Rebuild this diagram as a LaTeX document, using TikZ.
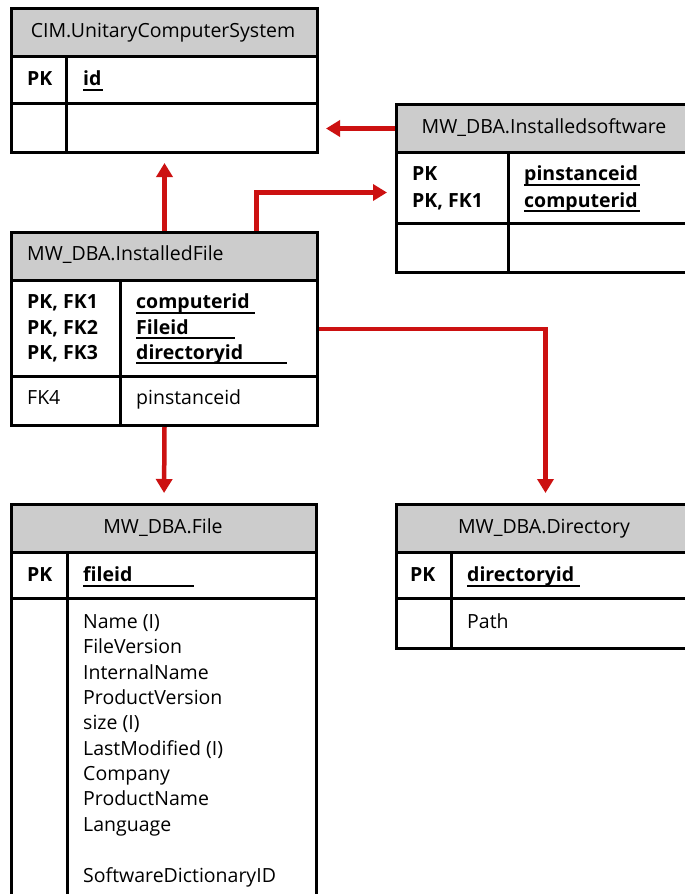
\documentclass[tikz,border=0pt]{standalone}
\usepackage{fontspec}
\setmainfont{Open Sans}
\usetikzlibrary{arrows.meta}
\definecolor{hdr}{HTML}{CCCCCC}
\definecolor{lnk}{HTML}{CC1111}
\begin{document}
\begin{tikzpicture}[x=1pt,y=-1pt,
  box/.style={draw, line width=3pt, inner sep=0, anchor=north west},
  hbox/.style={box, fill=hdr},
  sep/.style={line width=3pt},
  txt/.style={inner sep=0, anchor=base west, font=\fontsize{19.5}{22}\selectfont},
  btxt/.style={txt, font=\fontsize{19.5}{22}\selectfont\bfseries},
  htxt/.style={txt, anchor=base},
  uline/.style={line width=2pt},
  link/.style={draw=lnk, line width=4.5pt, -{Triangle[width=16pt,length=14pt]}}
]
\clip (0,0) rectangle (685,894);
\fill[white] (0,0) rectangle (685,894);

% CIM.UnitaryComputerSystem
\node[hbox, minimum width=306pt, minimum height=48pt] (cimh) at (10,7) {};
\node[box, minimum width=306pt, minimum height=144pt] (cim) at (10,7) {};
\draw[sep] (10,103) -- (316,103);
\draw[sep] (66,55) -- (66,151);
\node[htxt] (cimt) at (163,37) {CIM.UnitaryComputerSystem};
\node[btxt] (cimpk) at (27,85) {PK};
\node[btxt] (cimid) at (83,85) {id};
\draw[uline] (83,90) -- (103,90);

% MW_DBA.InstalledFile
\node[hbox, minimum width=306pt, minimum height=48pt] (instfh) at (10,231) {};
\node[box, minimum width=306pt, minimum height=193pt] (instf) at (10,231) {};
\draw[sep] (10,376) -- (316,376);
\draw[sep] (120,279) -- (120,424);
\node[txt] (instft) at (27,260) {MW\_DBA.InstalledFile};
\node[btxt] (ifk1) at (27,308) {PK, FK1};
\node[btxt] (ifk2) at (27,334) {PK, FK2};
\node[btxt] (ifk3) at (27,359) {PK, FK3};
\node[btxt] (ifc1) at (136,308) {computerid};
\node[btxt] (ifc2) at (136,334) {Fileid};
\node[btxt] (ifc3) at (136,359) {directoryid};
\draw[uline] (136,313) -- (255,313);
\draw[uline] (136,338) -- (235,338);
\draw[uline] (136,363) -- (287,363);
\node[txt] (ifk4) at (27,404) {FK4};
\node[txt] (ifc4) at (136,404) {pinstanceid};

% MW_DBA.Installedsoftware
\node[hbox, minimum width=298pt, minimum height=48pt] (instsh) at (395,103) {};
\node[box, minimum width=298pt, minimum height=168pt] (insts) at (395,103) {};
\draw[sep] (395,223) -- (693,223);
\draw[sep] (508,151) -- (508,271);
\node[htxt] (instst) at (544,133) {MW\_DBA.Installedsoftware};
\node[btxt] (isk1) at (412,180) {PK};
\node[btxt] (isk2) at (412,207) {PK, FK1};
\node[btxt] (isc1) at (524,180) {pinstanceid};
\node[btxt] (isc2) at (524,207) {computerid};
\draw[uline] (524,185) -- (640,185);
\draw[uline] (524,211) -- (640,211);

% MW_DBA.File
\node[hbox, minimum width=305pt, minimum height=48pt] (fileh) at (10,503) {};
\node[box, minimum width=305pt, minimum height=420pt] (file) at (10,503) {};
\draw[sep] (10,598) -- (315,598);
\draw[sep] (67,551) -- (67,900);
\node[htxt] (filet) at (163,533) {MW\_DBA.File};
\node[btxt] (filepk) at (27,581) {PK};
\node[btxt] (fileid) at (83,581) {fileid};
\draw[uline] (83,586) -- (194,586);
\node[txt] (fa1) at (83,628) {Name (I)};
\node[txt] (fa2) at (83,653) {FileVersion};
\node[txt] (fa3) at (83,679) {InternalName};
\node[txt] (fa4) at (83,704) {ProductVersion};
\node[txt] (fa5) at (83,729) {size (I)};
\node[txt] (fa6) at (83,755) {LastModified (I)};
\node[txt] (fa7) at (83,780) {Company};
\node[txt] (fa8) at (83,805) {ProductName};
\node[txt] (fa9) at (83,831) {Language};
\node[txt] (fa10) at (83,882) {SoftwareDictionaryID};

% MW_DBA.Directory
\node[hbox, minimum width=298pt, minimum height=48pt] (dirh) at (395,503) {};
\node[box, minimum width=298pt, minimum height=144pt] (dir) at (395,503) {};
\draw[sep] (395,598) -- (693,598);
\draw[sep] (451,551) -- (451,647);
\node[htxt] (dirt) at (544,533) {MW\_DBA.Directory};
\node[btxt] (dirpk) at (410,581) {PK};
\node[btxt] (dirid) at (467,581) {directoryid};
\draw[uline] (467,586) -- (580,586);
\node[txt] (dirpath) at (467,628) {Path};

% connectors
\draw[link, shorten >=9pt] (instf.north) -- (cim.south);
\draw[link, shorten >=8pt] ([xshift=92pt]instf.north) |- ([yshift=-4pt]insts.west);
\draw[link, shorten >=7pt] (instsh.west) -- (cim.east |- instsh.west);
\draw[link, shorten >=10pt] (instf.east) -| (dir.north);
\draw[link, shorten >=10pt] (instf.south) -- (file.north);
\end{tikzpicture}
\end{document}
